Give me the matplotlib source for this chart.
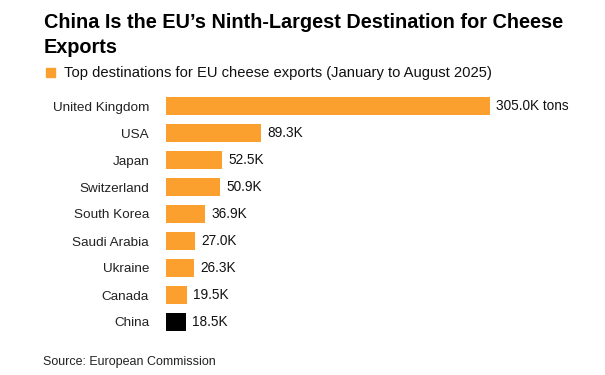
import matplotlib
matplotlib.use("Agg")
import matplotlib.pyplot as plt

plt.rcParams['font.family'] = ['Liberation Sans', 'DejaVu Sans']

categories = ["United Kingdom", "USA", "Japan", "Switzerland", "South Korea",
              "Saudi Arabia", "Ukraine", "Canada", "China"]
values = [305.0, 89.3, 52.5, 50.9, 36.9, 27.0, 26.3, 19.5, 18.5]
value_labels = ["305.0K tons", "89.3K", "52.5K", "50.9K", "36.9K",
                "27.0K", "26.3K", "19.5K", "18.5K"]
highlight = "China"

ORANGE = "#FBA02E"
W, H = 605, 375
fig = plt.figure(figsize=(W / 100, H / 100), dpi=100)

# axes in pixel coordinates
x0, x1 = 166, 490
y_top, y_bot = 92.5, 335.5
ax = fig.add_axes([x0 / W, 1 - y_bot / H, (x1 - x0) / W, (y_bot - y_top) / H])

colors = ["black" if c == highlight else ORANGE for c in categories]
ypos = list(range(len(categories)))
ax.barh(ypos, values, height=0.7, color=colors)
ax.set_xlim(0, max(values))
ax.set_ylim(len(categories) - 0.5, -0.5)
for s in ax.spines.values():
    s.set_visible(False)
ax.set_xticks([])
ax.set_yticks(ypos)
ax.set_yticklabels(categories, fontsize=9.7, color="#222222")
ax.tick_params(axis='y', length=0, pad=12.2)

for y, v, lab in zip(ypos, values, value_labels):
    ax.annotate(lab, xy=(v, y), xytext=(4.5, 0), textcoords='offset points',
                va='center', ha='left', fontsize=9.8, color="#111111",
                annotation_clip=False)

def px(x, y):
    return x / W, 1 - y / H

fig.text(*px(44, 27.5), "China Is the EU\u2019s Ninth-Largest Destination for Cheese",
         fontsize=14.3, fontweight='bold', va='baseline', ha='left')
fig.text(*px(44, 52.7), "Exports",
         fontsize=14.3, fontweight='bold', va='baseline', ha='left')

# legend
fig.patches.append(plt.Rectangle(px(46, 77), 9 / W, 9 / H,
                                 transform=fig.transFigure, color=ORANGE))
fig.text(*px(64, 77), "Top destinations for EU cheese exports (January to August 2025)",
         fontsize=10.6, va='baseline', ha='left', color="#111111")

fig.text(*px(43, 364.5), "Source: European Commission", fontsize=9.0,
         va='baseline', ha='left', color="#222222")

fig.savefig("out.png", dpi=100)
